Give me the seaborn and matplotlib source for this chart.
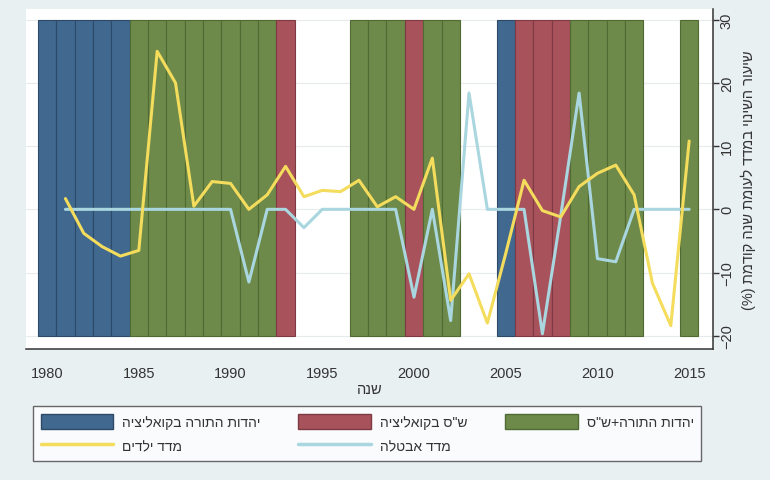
import matplotlib
matplotlib.use("Agg")
import matplotlib.pyplot as plt
from matplotlib.patches import Patch
from matplotlib.lines import Line2D
import seaborn as sns
import pandas as pd

# ---- data ----
years = list(range(1981, 2016))
child_index = [1.7, -3.8, -5.9, -7.4, -6.5, 25, 20, 0.5, 4.4, 4.1,
               0, 2.3, 6.8, 2, 3, 2.8, 4.6, 0.4, 2, 0,
               8.1, -14.4, -10.2, -18, -7, 4.6, -0.2, -1.2, 3.6, 5.7,
               7, 2.3, -11.7, -18.4, 10.8]
unemp_index = [0, 0, 0, 0, 0, 0, 0, 0, 0, 0,
               -11.5, 0, 0, -2.9, 0, 0, 0, 0, 0, -13.9,
               0, -17.6, 18.4, 0, 0, 0, -19.7, -1, 18.4, -7.8,
               -8.3, 0, 0, 0, 0]

gov_years = [1980, 1981, 1982, 1983, 1984,
             1985, 1986, 1987, 1988, 1989, 1990, 1991, 1992,
             1993,
             1997, 1998, 1999,
             2000,
             2001, 2002,
             2005,
             2006, 2007, 2008,
             2009, 2010, 2011, 2012,
             2015]
gov_party = ["utj"] * 5 + ["both"] * 8 + ["shas"] + ["both"] * 3 + ["shas"] + \
            ["both"] * 2 + ["utj"] + ["shas"] * 3 + ["both"] * 4 + ["both"]
bar_low, bar_high = -20, 30

x_ticks = [1980, 1985, 1990, 1995, 2000, 2005, 2010, 2015]
y_ticks = [-20, -10, 0, 10, 20, 30]

lbl_utj = "יהדות התורה בקואליציה"
lbl_shas = 'ש"ס בקואליציה'
lbl_both = 'יהדות התורה+ש"ס'
lbl_child = "מדד ילדים"
lbl_unemp = "מדד אבטלה"
x_label = "שנה"
y_label = "שיעור השינוי במדד לעומת שנה קודמת (%)"


def heb(s):
    # matplotlib has no bidi, so flip the string by hand
    swap = {"(": ")", ")": "("}
    return "".join(swap.get(c, c) for c in reversed(s))


fill = {"utj": "#41688f", "shas": "#a8525c", "both": "#6e8a4a"}
edge = {"utj": "#2c4a68", "shas": "#7e3a42", "both": "#4f6a33"}
yellow = "#f4dc5c"
light_blue = "#a9d6df"

sns.set_style("white")
plt.rcParams["font.family"] = ["Liberation Sans", "DejaVu Sans"]

fig = plt.figure(figsize=(7.7, 4.81), dpi=100)
fig.patch.set_facecolor("#e9f0f2")
ax = fig.add_axes([26 / 770, 1 - 350 / 481, (713 - 26) / 770, 340 / 481])
ax.set_facecolor("white")

# coalition bars
ax.bar(gov_years, bar_high - bar_low, bottom=bar_low, width=1.0,
       color=[fill[p] for p in gov_party],
       edgecolor=[edge[p] for p in gov_party], linewidth=0.8, zorder=1)

df = pd.DataFrame({"year": years, "child": child_index, "unemp": unemp_index})
sns.lineplot(data=df, x="year", y="unemp", color=light_blue, linewidth=2.2, ax=ax, zorder=3)
sns.lineplot(data=df, x="year", y="child", color=yellow, linewidth=2.2, ax=ax, zorder=4)

ax.set_xlim(1978.85, 2016.3)
ax.set_ylim(-22.1, 31.7)
ax.set_xticks(x_ticks)
ax.set_yticks(y_ticks)
ax.yaxis.tick_right()
ax.yaxis.set_label_position("right")
ax.grid(axis="y", color="#e6ecee", linewidth=0.8, zorder=0)
ax.set_axisbelow(True)

for s in ["left", "top"]:
    ax.spines[s].set_visible(False)
for s in ["bottom", "right"]:
    ax.spines[s].set_color("#333333")
    ax.spines[s].set_linewidth(1.1)

ax.tick_params(axis="both", direction="out", length=4.5, width=1, color="#333333",
               labelsize=10.5, labelcolor="#333333")
ax.tick_params(axis="x", pad=8)
ax.tick_params(axis="y", pad=0.5, labelrotation=90)
for t in ax.get_yticklabels():
    t.set_va("center")

ax.set_xlabel(heb(x_label), fontsize=10.5, color="#333333", labelpad=1)
ax.set_ylabel(heb(y_label), fontsize=10.5, color="#333333", labelpad=5, rotation=90)

handles = [
    Patch(facecolor=fill["utj"], edgecolor=edge["utj"]),
    Line2D([0], [0], color=yellow, linewidth=2.5),
    Patch(facecolor=fill["shas"], edgecolor=edge["shas"]),
    Line2D([0], [0], color=light_blue, linewidth=2.5),
    Patch(facecolor=fill["both"], edgecolor=edge["both"]),
]
labels = [heb(lbl_utj), heb(lbl_child), heb(lbl_shas), heb(lbl_unemp), heb(lbl_both)]
leg = fig.legend(handles, labels, ncol=3, loc="upper left",
                 bbox_to_anchor=(33 / 770, 1 - 407 / 481),
                 frameon=True, fancybox=False, fontsize=10,
                 handlelength=5.2, handleheight=1.35, handletextpad=0.65,
                 columnspacing=2.75, labelspacing=0.6, borderpad=0.55,
                 borderaxespad=0)
leg.get_frame().set_edgecolor("#444444")
leg.get_frame().set_linewidth(1.0)
for t in leg.get_texts():
    t.set_color("#333333")

fig.savefig("out.png", dpi=100, facecolor=fig.get_facecolor())
